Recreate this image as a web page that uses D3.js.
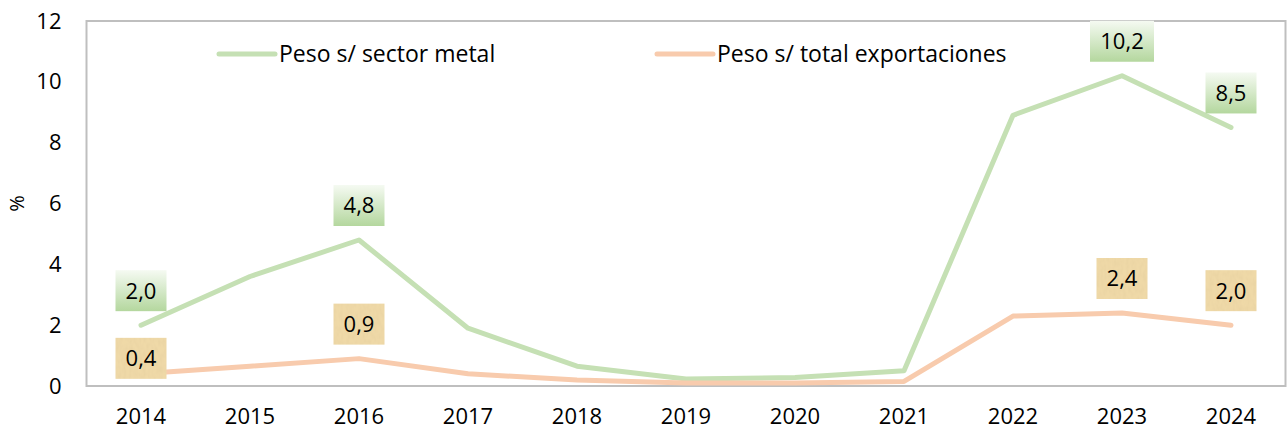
<!DOCTYPE html>
<html>
<head>
<meta charset="utf-8">
<script src="https://cdn.jsdelivr.net/npm/d3@7"></script>
<style>
  body { margin: 0; background: #fff; }
  svg { font-family: "Open Sans", "Noto Sans", sans-serif; }
</style>
</head>
<body>
<svg id="chart"></svg>
<script>
const years = ['2014', '2015', '2016', '2017', '2018', '2019', '2020', '2021', '2022', '2023', '2024'];
const sectorMetal = [2.0, 3.6, 4.8, 1.9, 0.65, 0.23, 0.28, 0.5, 8.9, 10.2, 8.5];
const totalExport = [0.4, 0.65, 0.9, 0.4, 0.2, 0.1, 0.1, 0.15, 2.3, 2.4, 2.0];
const labelledYears = ['2014', '2016', '2023', '2024'];
const yTicks = [0, 2, 4, 6, 8, 10, 12];
const seriesNames = ['Peso s/ sector metal', 'Peso s/ total exportaciones'];

const width = 1287;
const height = 430;
const margin = { top: 21, right: 1.5, bottom: 44, left: 86.5 };
const font = '"Open Sans", "Noto Sans", sans-serif';

const svg = d3.select('#chart')
  .attr('width', width)
  .attr('height', height);

const defs = svg.append('defs');

// green label fill: light top to green bottom
const grad = defs.append('linearGradient')
  .attr('id', 'greenFill')
  .attr('x1', 0).attr('y1', 0).attr('x2', 0).attr('y2', 1);
grad.append('stop').attr('offset', '0%').attr('stop-color', '#f5faf2');
grad.append('stop').attr('offset', '100%').attr('stop-color', '#b4d79e');

// parchment-like texture for the orange labels
const tex = defs.append('filter')
  .attr('id', 'parchment')
  .attr('x', 0).attr('y', 0).attr('width', 1).attr('height', 1);
tex.append('feTurbulence')
  .attr('type', 'fractalNoise')
  .attr('baseFrequency', '0.3 0.15')
  .attr('numOctaves', 2)
  .attr('seed', 3)
  .attr('result', 'noise');
tex.append('feColorMatrix')
  .attr('in', 'noise')
  .attr('type', 'matrix')
  .attr('values', '0 0 0 0 0.80  0 0 0 0 0.64  0 0 0 0 0.36  1.3 0 0 0 -0.45')
  .attr('result', 'tint');
tex.append('feComposite')
  .attr('in', 'tint')
  .attr('in2', 'SourceGraphic')
  .attr('operator', 'atop');

const x = d3.scaleBand()
  .domain(years)
  .range([margin.left, width - margin.right]);

const y = d3.scaleLinear()
  .domain([0, 12])
  .range([height - margin.bottom, margin.top]);

// plot frame
svg.append('rect')
  .attr('x', margin.left)
  .attr('y', margin.top)
  .attr('width', width - margin.right - margin.left)
  .attr('height', y(0) - margin.top)
  .attr('fill', 'none')
  .attr('stroke', '#bfbfbf')
  .attr('stroke-width', 2);

// y axis labels
const yAxis = svg.append('g')
  .attr('transform', `translate(${margin.left}, 0)`)
  .call(d3.axisLeft(y).tickValues(yTicks).tickSize(0).tickPadding(25));
yAxis.select('.domain').remove();
yAxis.selectAll('text')
  .attr('font-family', font)
  .attr('font-size', 22)
  .attr('fill', '#000');

// x axis labels
const xAxis = svg.append('g')
  .attr('transform', `translate(0, ${y(0)})`)
  .call(d3.axisBottom(x).tickSize(0).tickPadding(22));
xAxis.select('.domain').remove();
xAxis.selectAll('text')
  .attr('font-family', font)
  .attr('font-size', 22)
  .attr('fill', '#000');

svg.append('text')
  .attr('transform', `translate(24, ${y(6)}) rotate(-90)`)
  .attr('text-anchor', 'middle')
  .attr('font-size', 20)
  .text('%');

const series = [
  { name: seriesNames[0], values: sectorMetal, color: '#c5e0b4', label: 'url(#greenFill)', filter: null },
  { name: seriesNames[1], values: totalExport, color: '#f8cbad', label: '#efd9a7', filter: 'url(#parchment)' }
];

const line = d3.line()
  .x((d, i) => x(years[i]) + x.bandwidth() / 2)
  .y(d => y(d));

series.forEach(s => {
  svg.append('path')
    .datum(s.values)
    .attr('d', line)
    .attr('fill', 'none')
    .attr('stroke', s.color)
    .attr('stroke-width', 5)
    .attr('stroke-linejoin', 'round')
    .attr('stroke-linecap', 'round');
});

// data labels
const fmt = v => d3.format('.1f')(v).replace('.', ',');
series.forEach((s, si) => {
  labelledYears.forEach(yr => {
    const i = years.indexOf(yr);
    const v = s.values[i];
    const label = fmt(v);
    const w = label.length > 3 ? 64 : 51;
    const h = 41;
    const cx = x(yr) + x.bandwidth() / 2;
    let bottom = y(v) - 14;
    // first orange label was moved down to clear the green one
    if (si === 1 && i === 0) bottom = y(v) + 5;
    const g = svg.append('g');
    g.append('rect')
      .attr('x', cx - w / 2)
      .attr('y', bottom - h)
      .attr('width', w)
      .attr('height', h)
      .attr('fill', s.label)
      .attr('filter', s.filter);
    g.append('text')
      .attr('x', cx)
      .attr('y', bottom - h / 2)
      .attr('dy', '0.36em')
      .attr('text-anchor', 'middle')
      .attr('font-size', 22)
      .text(label);
  });
});

// legend
const legendX = [219, 657];
series.forEach((s, i) => {
  const g = svg.append('g').attr('transform', `translate(${legendX[i]}, 54)`);
  g.append('line')
    .attr('x1', 0).attr('x2', 56)
    .attr('stroke', s.color)
    .attr('stroke-width', 5)
    .attr('stroke-linecap', 'round');
  g.append('text')
    .attr('x', 60)
    .attr('dy', '0.35em')
    .attr('font-size', 23)
    .text(s.name);
});
</script>
</body>
</html>
